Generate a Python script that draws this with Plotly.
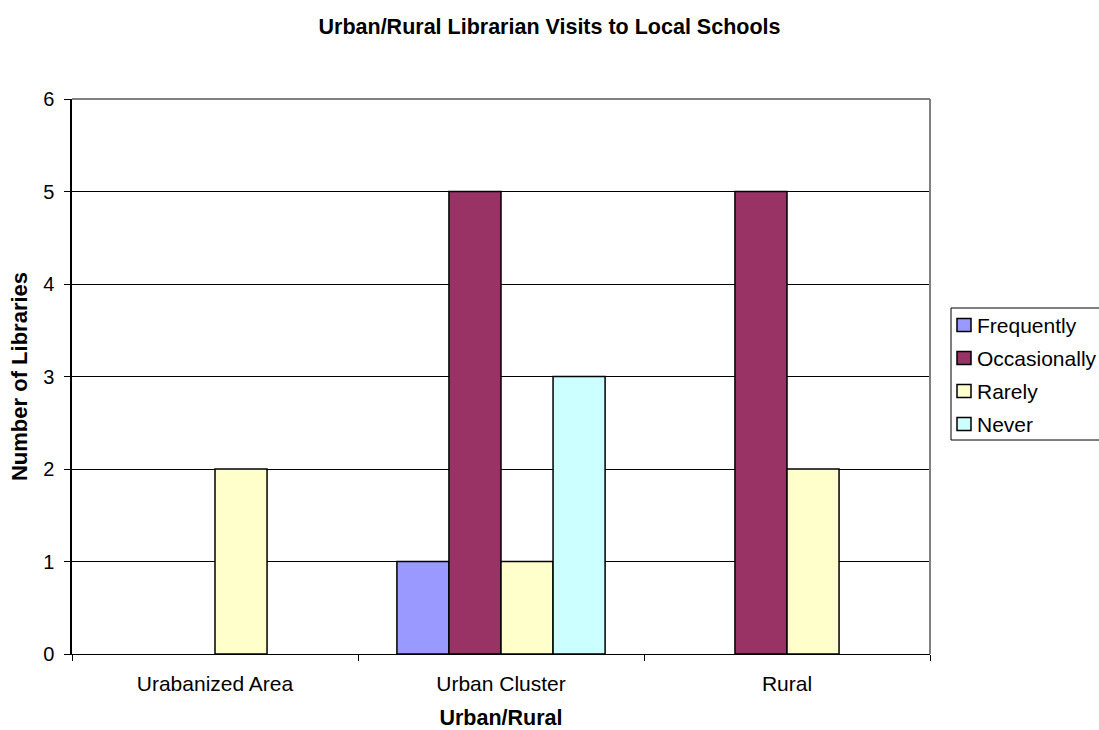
import plotly.graph_objects as go

# Survey results: librarian visits to local schools by urban/rural status
areas = ["Urabanized Area", "Urban Cluster", "Rural"]
series_names = ["Frequently", "Occasionally", "Rarely", "Never"]
frequently = [0, 1, 0]
occasionally = [0, 5, 5]
rarely = [2, 1, 2]
never = [0, 3, 0]
series_values = [frequently, occasionally, rarely, never]
colors = ["#9999FF", "#993366", "#FFFFCC", "#CCFFFF"]

FONT = "Liberation Sans, Arial, sans-serif"

fig = go.Figure()
for name, vals, col in zip(series_names, series_values, colors):
    fig.add_trace(go.Bar(
        x=areas,
        y=[v if v else None for v in vals],
        name=name,
        marker=dict(color=col, line=dict(color="black", width=1.5)),
        showlegend=False,
    ))

fig.update_layout(
    width=1099, height=730,
    margin=dict(l=72, r=169, t=99, b=76),
    paper_bgcolor="white", plot_bgcolor="white",
    barmode="group", bargap=0.272, bargroupgap=0,
    font=dict(family=FONT, size=20, color="black"),
    title=dict(text="<b>Urban/Rural Librarian Visits to Local Schools</b>",
               x=0.5, xref="container", xanchor="center",
               y=1 - 26 / 730, yanchor="middle",
               font=dict(size=21.5, family=FONT)),
)

fig.update_xaxes(
    type="category", tickson="boundaries", ticks="outside", ticklen=6,
    tickcolor="black", showline=True, linecolor="black", linewidth=1,
    tickfont=dict(size=21), ticklabelstandoff=11, automargin=False,
    title=dict(text="<b>Urban/Rural</b>", font=dict(size=21.5), standoff=18),
)
fig.update_yaxes(
    range=[0, 6], dtick=1, ticks="outside", ticklen=6, tickcolor="black",
    showline=True, linecolor="black", linewidth=1.5,
    showgrid=True, gridcolor="black", gridwidth=1, automargin=False,
    tickfont=dict(size=20), zeroline=False, ticklabelstandoff=6,
    title=dict(text="<b>Number of Libraries</b>", font=dict(size=22), standoff=9),
)

# gray frame on top and right of the plotting area
fig.add_shape(type="line", xref="paper", yref="paper", x0=0, x1=1, y0=1, y1=1,
              line=dict(color="#808080", width=2), layer="above")
fig.add_shape(type="line", xref="paper", yref="paper", x0=1, x1=1, y0=0, y1=1,
              line=dict(color="#808080", width=2), layer="above")

# legend box with square swatches
pw, ph = 858.0, 555.0
def px_x(px):
    return (px - 72) / pw
def px_y(py):
    return (654 - py) / ph

fig.add_shape(type="rect", xref="paper", yref="paper",
              x0=px_x(951), x1=px_x(1110), y0=px_y(308), y1=px_y(440),
              line=dict(color="black", width=1), fillcolor="white")
for i, (name, col) in enumerate(zip(series_names, colors)):
    cy = 325 + i * 33
    fig.add_shape(type="rect", xref="paper", yref="paper",
                  x0=px_x(957), x1=px_x(971), y0=px_y(cy - 6.5), y1=px_y(cy + 6.5),
                  line=dict(color="black", width=1.5), fillcolor=col)
    fig.add_annotation(text=name, xref="paper", yref="paper",
                       x=px_x(975), y=px_y(cy), xanchor="left", yanchor="middle",
                       showarrow=False, font=dict(size=21, family=FONT))

fig.write_html("out.html")
